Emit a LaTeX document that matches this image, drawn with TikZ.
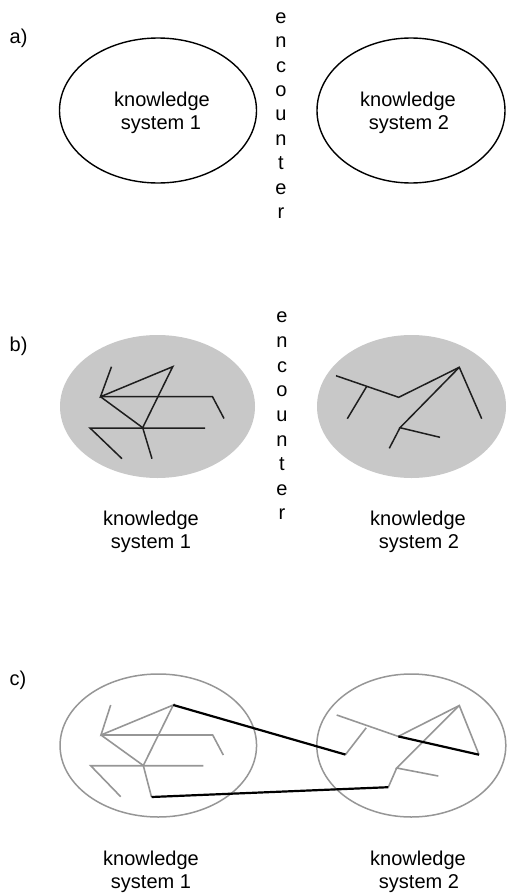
\documentclass[tikz,border=0pt]{standalone}
\usepackage{fontspec}
\setmainfont{Liberation Sans}
\usetikzlibrary{shapes.geometric}
\definecolor{fillgray}{RGB}{200,200,200}
\definecolor{linegray}{RGB}{150,150,150}
\definecolor{darkline}{RGB}{30,30,30}
\tikzset{
  txt/.style={font=\fontsize{20}{23}\selectfont, inner sep=0pt, anchor=base},
  panel/.style={font=\fontsize{20}{23}\selectfont, inner sep=0pt, anchor=base west},
  ell/.style={shape=ellipse, inner sep=0pt},
  ellA/.style={ell, draw=black, line width=1.4pt},
  ellB/.style={ell, fill=fillgray},
  ellC/.style={ell, draw=linegray, line width=1.5pt},
  lineB/.style={draw=darkline, line width=1.5pt},
  lineC/.style={draw=linegray, line width=1.6pt},
  bridge/.style={draw=black, line width=2.2pt},
}
\begin{document}
\begin{tikzpicture}[x=1pt,y=-1pt]
\useasboundingbox (0,0) rectangle (506,894);
% ---------------- panel a ----------------
\node[panel] (la) at (9.5,43) {a)};
\node[ellA, minimum width=197pt, minimum height=145pt] (a1) at (158,110.5) {};
\node[ellA, minimum width=188pt, minimum height=145pt] (a2) at (411,110.5) {};
\node[txt] (a1t1) at (162,106) {knowledge};
\node[txt] (a1t2) at (161,129.3) {system 1};
\node[txt] (a2t1) at (408,106) {knowledge};
\node[txt] (a2t2) at (409,129.3) {system 2};
\foreach \l [count=\i] in {e,n,c,o,u,n,t,e,r}
  \node[txt] (ea\i) at ({281},{23.3+24.4*(\i-1)}) {\l};
% ---------------- panel b ----------------
\node[panel] (lb) at (9.5,351.7) {b)};
\node[ellB, minimum width=195pt, minimum height=143pt] (b1) at (157.5,406.5) {};
\node[ellB, minimum width=189pt, minimum height=143pt] (b2) at (411.5,406.5) {};
\foreach \l [count=\i] in {e,n,c,o,u,n,t,e,r}
  \node[txt] (eb\i) at ({282},{322.7+24.66*(\i-1)}) {\l};
\node[txt] (b1t1) at (151,525) {knowledge};
\node[txt] (b1t2) at (151,548.3) {system 1};
\node[txt] (b2t1) at (418,525) {knowledge};
\node[txt] (b2t2) at (419,548.3) {system 2};
% system 1 structure
\coordinate (bA) at (111.5,366.7);
\coordinate (bB) at (100.5,396.7);
\coordinate (bC) at (172.7,366.7);
\coordinate (bD) at (212.5,396.7);
\coordinate (bE) at (224,418.5);
\coordinate (bF) at (142.7,427.7);
\coordinate (bG) at (90,428);
\coordinate (bH) at (205,428);
\coordinate (bI) at (122,458.7);
\coordinate (bJ) at (152,458.7);
\draw[lineB] (bA) -- (bB) -- (bC) -- (bF);
\draw[lineB] (bB) -- (bD) -- (bE);
\draw[lineB] (bB) -- (bF) -- (bJ);
\draw[lineB] (bH) -- (bG) -- (bI);
% system 2 structure
\coordinate (bK) at (336,375.7);
\coordinate (bL) at (366.7,386.4);
\coordinate (bM) at (347.3,418.7);
\coordinate (bN) at (398.7,397.3);
\coordinate (bO) at (459.3,367.3);
\coordinate (bP) at (481.7,418.7);
\coordinate (bQ) at (400,427.7);
\coordinate (bR) at (440,437.3);
\coordinate (bS) at (389.3,448.3);
\draw[lineB] (bK) -- (bN) -- (bO) -- (bP);
\draw[lineB] (bL) -- (bM);
\draw[lineB] (bO) -- (bQ) -- (bR);
\draw[lineB] (bQ) -- (bS);
% ---------------- panel c ----------------
\node[panel] (lc) at (9.5,685) {c)};
\node[ellC, minimum width=196.5pt, minimum height=143pt] (c1) at (158.3,745.5) {};
\node[ellC, minimum width=189pt, minimum height=143pt] (c2) at (411.3,745.5) {};
\node[txt] (c1t1) at (151,865) {knowledge};
\node[txt] (c1t2) at (151,888.3) {system 1};
\node[txt] (c2t1) at (418,865) {knowledge};
\node[txt] (c2t2) at (419,888.3) {system 2};
% system 1 structure
\coordinate (cA) at (110.7,705);
\coordinate (cB) at (101,735);
\coordinate (cC) at (173.3,705);
\coordinate (cD) at (212.7,735);
\coordinate (cE) at (223.3,755);
\coordinate (cF) at (143.3,765.5);
\coordinate (cG) at (90.7,765.7);
\coordinate (cH) at (203.3,765.7);
\coordinate (cI) at (120.7,796.7);
\coordinate (cJ) at (151.5,797);
\draw[lineC] (cA) -- (cB) -- (cC) -- (cF);
\draw[lineC] (cB) -- (cD) -- (cE);
\draw[lineC] (cB) -- (cF) -- (cJ);
\draw[lineC] (cH) -- (cG) -- (cI);
% system 2 structure
\coordinate (cK) at (336.7,715);
\coordinate (cL) at (366.2,727.8);
\coordinate (cM) at (345.5,754.6);
\coordinate (cN) at (398.3,736.4);
\coordinate (cO) at (459.3,705.5);
\coordinate (cP) at (479,754.7);
\coordinate (cQ) at (396.7,768);
\coordinate (cR) at (438.3,776);
\coordinate (cS) at (388.3,787.2);
\draw[lineC] (cK) -- (cN) -- (cO) -- (cP);
\draw[lineC] (cL) -- (cM);
\draw[lineC] (cO) -- (cQ) -- (cR);
\draw[lineC] (cQ) -- (cS);
% bridging links
\draw[bridge] (cC) -- (cM);
\draw[bridge] (cJ) -- (cS);
\draw[bridge] (cN) -- (cP);
\end{tikzpicture}
\end{document}
